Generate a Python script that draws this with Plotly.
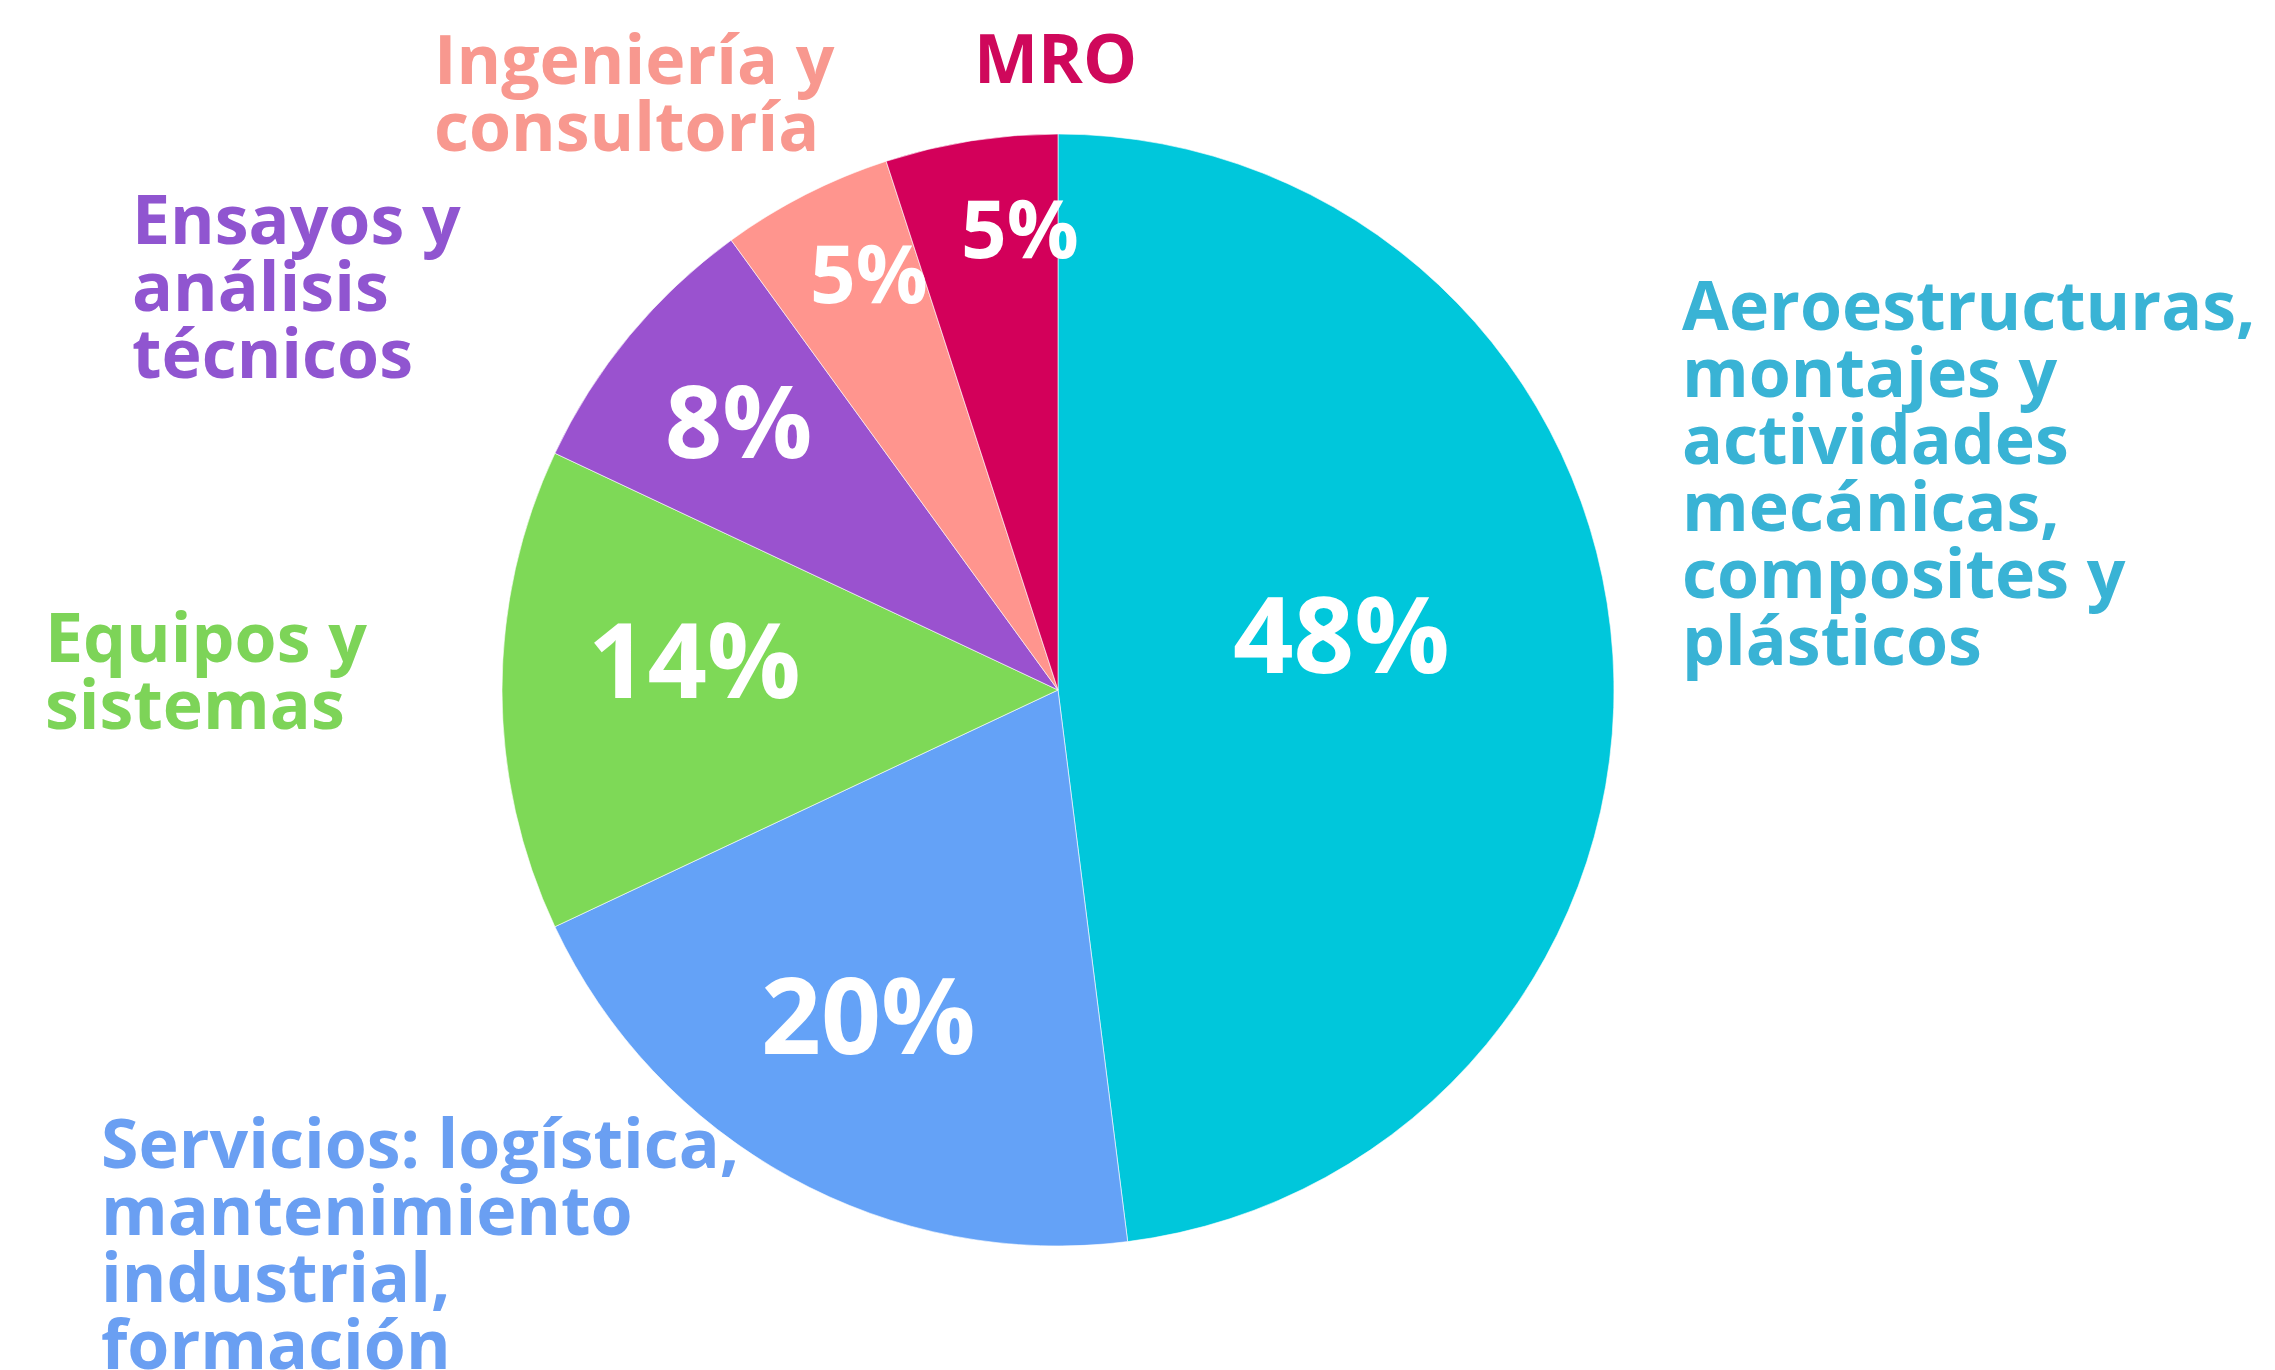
import math
import plotly.graph_objects as go

# ---------------- data ----------------
categories = [
    "Aeroestructuras, montajes y actividades mecánicas, composites y plásticos",
    "Servicios: logística, mantenimiento industrial, formación",
    "Equipos y sistemas",
    "Ensayos y análisis técnicos",
    "Ingeniería y consultoría",
    "MRO",
]
values = [48, 20, 14, 8, 5, 5]
label_lines = [
    ["Aeroestructuras,", "montajes y", "actividades", "mecánicas,", "composites y", "plásticos"],
    ["Servicios: logística,", "mantenimiento", "industrial,", "formación"],
    ["Equipos y", "sistemas"],
    ["Ensayos y", "análisis", "técnicos"],
    ["Ingeniería y", "consultoría"],
    ["MRO"],
]

# ---------------- styles / layout ----------------
W, H = 2275, 1370
slice_colors = ["#00C7DB", "#64A2F7", "#7ED957", "#9A52CF", "#FF958E", "#D3005A"]
text_colors = ["#39B3D5", "#6A9FF2", "#7DD458", "#9055D0", "#F8988F", "#CF085B"]
FONT = "Open Sans"

cx, cy, R = 1050, 682, 556          # pie centre / radius in pixels
pct_radius = [0.52, 0.68, 0.655, 0.75, 0.82, 0.83]
pct_angle_pos = [0.458, 0.517, 0.59, 0.51, 0.64, 0.74]
pct_size = [106, 105, 104, 100, 80, 80]
pct_lift = 4

label_left = [1672, 91, 35, 122, 424, 964]
label_first_baseline = [318, 1156, 650, 232, 72, 71]
line_step = 67
label_size = 68


def px(x):
    return x / W


def py(y):
    return 1 - y / H


fig = go.Figure()
fig.add_trace(go.Pie(
    labels=categories,
    values=values,
    sort=False,
    direction="clockwise",
    rotation=0,
    marker=dict(colors=slice_colors, line=dict(color="rgba(255,255,255,0.6)", width=1)),
    textinfo="none",
    hoverinfo="label+percent",
    showlegend=False,
    domain=dict(x=[px(cx - R), px(cx + R)], y=[py(cy + R), py(cy - R)]),
))

annotations = []
total = sum(values)
cum = 0
for i, v in enumerate(values):
    a0 = cum / total * 360
    a1 = (cum + v) / total * 360
    cum += v
    ang = math.radians(a0 + (a1 - a0) * pct_angle_pos[i])
    r = R * pct_radius[i]
    x = cx + r * math.sin(ang)
    y = cy - r * math.cos(ang) - pct_lift
    annotations.append(dict(
        x=px(x), y=py(y), xref="paper", yref="paper",
        text=f"<b>{v}%</b>", showarrow=False,
        xanchor="center", yanchor="middle",
        font=dict(family=FONT, size=pct_size[i], color="white"),
    ))

for i, lines in enumerate(label_lines):
    for j, line in enumerate(lines):
        base = label_first_baseline[i] + j * line_step
        annotations.append(dict(
            x=px(label_left[i]), y=py(base - 0.33 * label_size), xref="paper", yref="paper",
            text=f"<b>{line}</b>", showarrow=False,
            xanchor="left", yanchor="middle",
            font=dict(family=FONT, size=label_size, color=text_colors[i]),
        ))

fig.update_layout(
    width=W, height=H,
    margin=dict(l=0, r=0, t=0, b=0),
    paper_bgcolor="white", plot_bgcolor="white",
    annotations=annotations,
)

fig.write_html("out.html")
